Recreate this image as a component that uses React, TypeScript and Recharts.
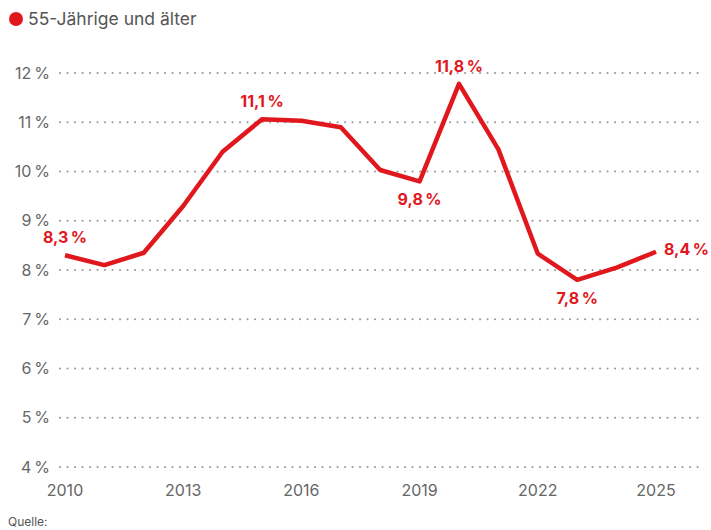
import React from "react";
import { LineChart, Line, XAxis, YAxis, CartesianGrid } from "recharts";

const years = [2010, 2011, 2012, 2013, 2014, 2015, 2016, 2017, 2018, 2019, 2020, 2021, 2022, 2023, 2024, 2025];
const shares = [8.3, 8.1, 8.35, 9.3, 10.4, 11.06, 11.03, 10.9, 10.03, 9.8, 11.78, 10.45, 8.33, 7.8, 8.05, 8.37];
const xTicks = [2010, 2013, 2016, 2019, 2022, 2025];
const yTicks = [4, 5, 6, 7, 8, 9, 10, 11, 12];
// which points get a value label, and on which side
const labelled: Record<number, "top" | "bottom" | "right"> = {
  2010: "top",
  2015: "top",
  2019: "bottom",
  2020: "top",
  2023: "bottom",
  2025: "right",
};

const RED = "#e1171e";
const FONT = "Inter, 'Noto Sans', sans-serif";

const data = years.map((year, i) => ({ year, share: shares[i] }));

const fmt = (v: number) => `${v.toFixed(1).replace(".", ",")}\u2009%`;

function PointLabel(props: any) {
  const { x, y, index } = props;
  const d = data[index];
  const side = d && labelled[d.year];
  if (!side) return null;
  let tx = x;
  let ty = y;
  let anchor: "middle" | "start" = "middle";
  if (side === "top") ty = y - 18;
  if (side === "bottom") ty = y + 18;
  if (side === "right") {
    tx = x + 8;
    ty = y - 3;
    anchor = "start";
  }
  return (
    <text x={tx} y={ty} textAnchor={anchor} dominantBaseline="central" fill={RED} fontSize={16} fontWeight={700} fontFamily={FONT}>
      {fmt(d.share)}
    </text>
  );
}

export default function App() {
  return (
    <div style={{ position: "absolute", left: 0, top: 0, width: 711, height: 530, background: "#fff", fontFamily: FONT }}>
      <div style={{ position: "absolute", left: 9, top: 8, display: "flex", alignItems: "center", gap: 5, fontSize: 17.5, color: "#555" }}>
        <span style={{ width: 14, height: 14, borderRadius: "50%", background: RED, display: "inline-block" }} />
        55-Jährige und älter
      </div>
      <LineChart width={711} height={530} data={data} margin={{ top: 73, right: 6, bottom: 0, left: 0 }}>
        <CartesianGrid vertical={false} stroke="#9a9a9a" strokeWidth={2} strokeDasharray="0.1 7.4" strokeLinecap="round" />
        <XAxis
          dataKey="year"
          type="number"
          domain={[2010, 2025]}
          ticks={xTicks}
          padding={{ left: 5, right: 49 }}
          axisLine={false}
          tickLine={false}
          height={63}
          tickMargin={12}
          tick={{ fill: "#666", fontSize: 16, fontFamily: FONT }}
        />
        <YAxis
          domain={[4, 12]}
          ticks={yTicks}
          width={60}
          axisLine={false}
          tickLine={false}
          tickMargin={4}
          tickFormatter={(v: number) => `${v}\u2009%`}
          tick={{ fill: "#666", fontSize: 16, fontFamily: FONT }}
        />
        <Line
          dataKey="share"
          stroke={RED}
          strokeWidth={4.5}
          strokeLinejoin="round"
          dot={false}
          activeDot={false}
          isAnimationActive={false}
          label={<PointLabel />}
        />
      </LineChart>
      <div style={{ position: "absolute", left: 8, top: 514, fontSize: 12, color: "#555" }}>Quelle:</div>
    </div>
  );
}
